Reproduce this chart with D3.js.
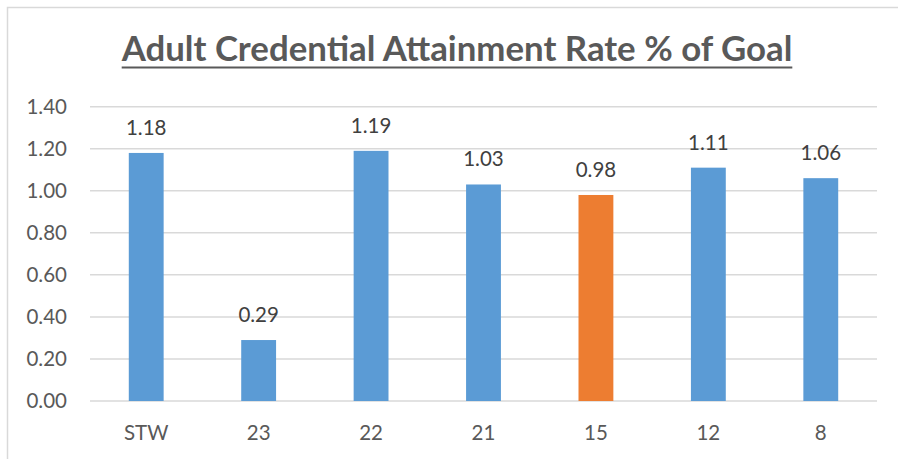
<!DOCTYPE html>
<html><head><meta charset="utf-8">
<script src="https://cdn.jsdelivr.net/npm/d3@7"></script>
<style>body{margin:0;background:#fff}svg{display:block}</style>
</head><body>
<svg id="c" width="898" height="459"></svg>
<script>
const categories = ["STW","23","22","21","15","12","8"];
const values = [1.18,0.29,1.19,1.03,0.98,1.11,1.06];
const highlight = ["15"];
const yTicks = [0,0.2,0.4,0.6,0.8,1.0,1.2,1.4];
const title = "Adult Credential Attainment Rate % of Goal";

const svg = d3.select("#c");
const font = "Lato, 'Open Sans', sans-serif";
const W = 898, H = 459;
const m = {left:90, right:877, top:106.7, bottom:401};
const fsz = 20.5;

// chart border
svg.append("path").attr("d", `M7.5,${H} L7.5,7.5 L${W},7.5`)
  .attr("fill","none").attr("stroke","#d9d9d9").attr("stroke-width",1.5);

const x = d3.scaleBand().domain(categories).range([m.left, m.right]).padding(0);
const y = d3.scaleLinear().domain([0,1.4]).range([m.bottom, m.top]);

// gridlines
svg.append("g").selectAll("line").data(yTicks).join("line")
  .attr("x1", m.left).attr("x2", m.right)
  .attr("y1", d=>y(d)).attr("y2", d=>y(d))
  .attr("stroke","#d9d9d9").attr("stroke-width",1.5);

// y axis labels
const yAxis = d3.axisLeft(y).tickValues(yTicks).tickFormat(d3.format(".2f")).tickSize(0).tickPadding(0);
const ya = svg.append("g").attr("transform","translate(67,0)").call(yAxis);
ya.select(".domain").remove();
ya.selectAll("text").attr("font-family",font).attr("font-size",fsz).attr("fill","#595959");

// x axis labels
const xAxis = d3.axisBottom(x).tickSize(0).tickPadding(0);
const xa = svg.append("g").attr("transform",`translate(0,${m.bottom})`).call(xAxis);
xa.select(".domain").remove();
xa.selectAll("text").attr("font-family",font).attr("font-size",fsz).attr("fill","#595959")
  .attr("dy",null).attr("y",39);

// bars
const bw = x.bandwidth()*0.31;
svg.append("g").selectAll("rect").data(categories).join("rect")
  .attr("x", d=>x(d)+x.bandwidth()/2-bw/2)
  .attr("width", bw)
  .attr("y", (d,i)=>y(values[i]))
  .attr("height", (d,i)=>y(0)-y(values[i]))
  .attr("fill", d=>highlight.includes(d) ? "#ED7D31" : "#5B9BD5");

// data labels
svg.append("g").selectAll("text").data(categories).join("text")
  .attr("x", d=>x(d)+x.bandwidth()/2)
  .attr("y", (d,i)=>y(values[i])-18)
  .attr("text-anchor","middle")
  .attr("font-family",font).attr("font-size",fsz).attr("fill","#404040")
  .text((d,i)=>d3.format(".2f")(values[i]));

// title
const t = svg.append("text").attr("x",457).attr("y",61).attr("text-anchor","middle")
  .attr("font-family",font).attr("font-weight","bold").attr("font-size",29).attr("fill","#595959")
  .text(title);
const tw = t.node().getComputedTextLength();
const fs = 29*671/tw;
t.attr("font-size",fs);
const tw2 = t.node().getComputedTextLength();
svg.append("line").attr("x1",457-tw2/2).attr("x2",457+tw2/2).attr("y1",67.5).attr("y2",67.5)
  .attr("stroke","#595959").attr("stroke-width",2);
</script>
</body></html>
